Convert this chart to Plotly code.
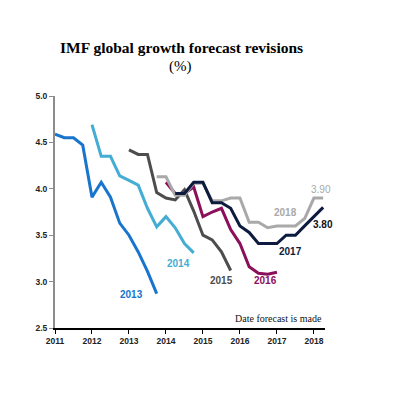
import plotly.graph_objects as go

# Forecast dates (quarterly, decimal years) and forecast values (%)
t2013 = [2011.0, 2011.25, 2011.5, 2011.75, 2012.0, 2012.25, 2012.5, 2012.75, 2013.0, 2013.25, 2013.5, 2013.75]
v2013 = [4.59, 4.55, 4.55, 4.47, 3.91, 4.07, 3.91, 3.63, 3.50, 3.32, 3.11, 2.87]

t2014 = [2012.0, 2012.25, 2012.5, 2012.75, 2013.0, 2013.25, 2013.5, 2013.75, 2014.0, 2014.25, 2014.5, 2014.75]
v2014 = [4.69, 4.35, 4.35, 4.14, 4.09, 4.04, 3.79, 3.59, 3.70, 3.58, 3.41, 3.31]

t2015 = [2013.0, 2013.25, 2013.5, 2013.75, 2014.0, 2014.25, 2014.5, 2014.75, 2015.0, 2015.25, 2015.5, 2015.75]
v2015 = [4.42, 4.37, 4.37, 3.96, 3.90, 3.88, 3.99, 3.76, 3.50, 3.45, 3.32, 3.12]

t2016 = [2014.0, 2014.25, 2014.5, 2014.75, 2015.0, 2015.25, 2015.5, 2015.75, 2016.0, 2016.25, 2016.5, 2016.75, 2017.0]
v2016 = [4.07, 3.95, 3.95, 4.02, 3.70, 3.75, 3.79, 3.56, 3.41, 3.16, 3.09, 3.08, 3.10]

t2017 = [2014.25, 2014.5, 2014.75, 2015.0, 2015.25, 2015.5, 2015.75, 2016.0, 2016.25, 2016.5, 2016.75, 2017.0, 2017.25, 2017.5, 2017.75, 2018.0, 2018.25]
v2017 = [3.95, 3.95, 4.07, 4.07, 3.85, 3.85, 3.79, 3.60, 3.53, 3.41, 3.41, 3.41, 3.50, 3.50, 3.60, 3.70, 3.80]

t2018 = [2013.75, 2014.0, 2014.25, 2014.5, 2014.75, 2015.0, 2015.25, 2015.5, 2015.75, 2016.0, 2016.25, 2016.5, 2016.75, 2017.0, 2017.25, 2017.5, 2017.75, 2018.0, 2018.25]
v2018 = [4.13, 4.13, 3.93, 3.93, 4.06, 4.06, 3.87, 3.87, 3.90, 3.90, 3.64, 3.64, 3.58, 3.60, 3.60, 3.60, 3.68, 3.90, 3.90]

x_ticks = [2011, 2012, 2013, 2014, 2015, 2016, 2017, 2018]
y_ticks = [2.5, 3.0, 3.5, 4.0, 4.5, 5.0]

series = [
    ("2013", t2013, v2013, "#1874CD", 2013.08, 2.86),
    ("2014", t2014, v2014, "#45ADD3", 2014.35, 3.19),
    ("2015", t2015, v2015, "#4D4D4D", 2015.49, 3.01),
    ("2016", t2016, v2016, "#8C0F5A", 2016.70, 3.01),
    ("2018", t2018, v2018, "#A9A9A9", 2017.22, 3.74),
    ("2017", t2017, v2017, "#0D1B3E", 2017.38, 3.32),
]

fig = go.Figure()
for name, t, v, color, lx, ly in series:
    fig.add_trace(go.Scatter(x=t, y=v, mode="lines", name=name,
                             line=dict(color=color, width=3), showlegend=False))

annotations = []
for name, t, v, color, lx, ly in series:
    annotations.append(dict(x=lx, y=ly, xref="x", yref="y", text="<b>%s</b>" % name,
                            xanchor="center", yanchor="middle",
                            showarrow=False, font=dict(family="Liberation Sans", size=10, color=color)))

annotations += [
    dict(x=2018.19, y=3.99, xref="x", yref="y", text="3.90", showarrow=False,
         xanchor="center", yanchor="middle",
         font=dict(family="Liberation Sans", size=10, color="#A9A9A9")),
    dict(x=2018.24, y=3.62, xref="x", yref="y", text="<b>3.80</b>", showarrow=False,
         xanchor="center", yanchor="middle",
         font=dict(family="Liberation Sans", size=10, color="#111111")),
    dict(x=2018.28, y=2.60, xref="x", yref="y", text="Date forecast is made", showarrow=False,
         xanchor="right", yanchor="middle",
         font=dict(family="Liberation Serif", size=10, color="#111111")),
    dict(x=0.467, y=1.207, xref="paper", yref="paper", text="<b>IMF global growth forecast revisions</b>",
         xanchor="center", yanchor="middle",
         showarrow=False, font=dict(family="Liberation Serif", size=15.5, color="#000000")),
    dict(x=0.463, y=1.129, xref="paper", yref="paper", text="(%)",
         xanchor="center", yanchor="middle",
         showarrow=False, font=dict(family="Liberation Serif", size=15, color="#000000")),
]

fig.update_layout(
    width=395, height=391,
    margin=dict(l=47, r=78, t=88, b=71),
    paper_bgcolor="white", plot_bgcolor="white",
    annotations=annotations,
    showlegend=False,
)
fig.update_xaxes(range=[2011, 2018.3], tickvals=x_ticks, ticktext=[str(x) for x in x_ticks],
                 showgrid=False, zeroline=False, showline=True, linecolor="#000000", linewidth=1.5,
                 ticks="outside", ticklen=4, tickcolor="#000000", tickwidth=1,
                 tickfont=dict(family="Liberation Sans", size=8.5, color="#222222", weight="bold"))
fig.update_yaxes(range=[2.5, 5.0], tickvals=y_ticks, ticktext=["%.1f" % y for y in y_ticks],
                 showgrid=False, zeroline=False, showline=True, linecolor="#8C8C8C", linewidth=2,
                 ticks="outside", ticklen=4, tickcolor="#8C8C8C", tickwidth=1,
                 tickfont=dict(family="Liberation Sans", size=8.5, color="#222222", weight="bold"))

fig.write_html("out.html")
